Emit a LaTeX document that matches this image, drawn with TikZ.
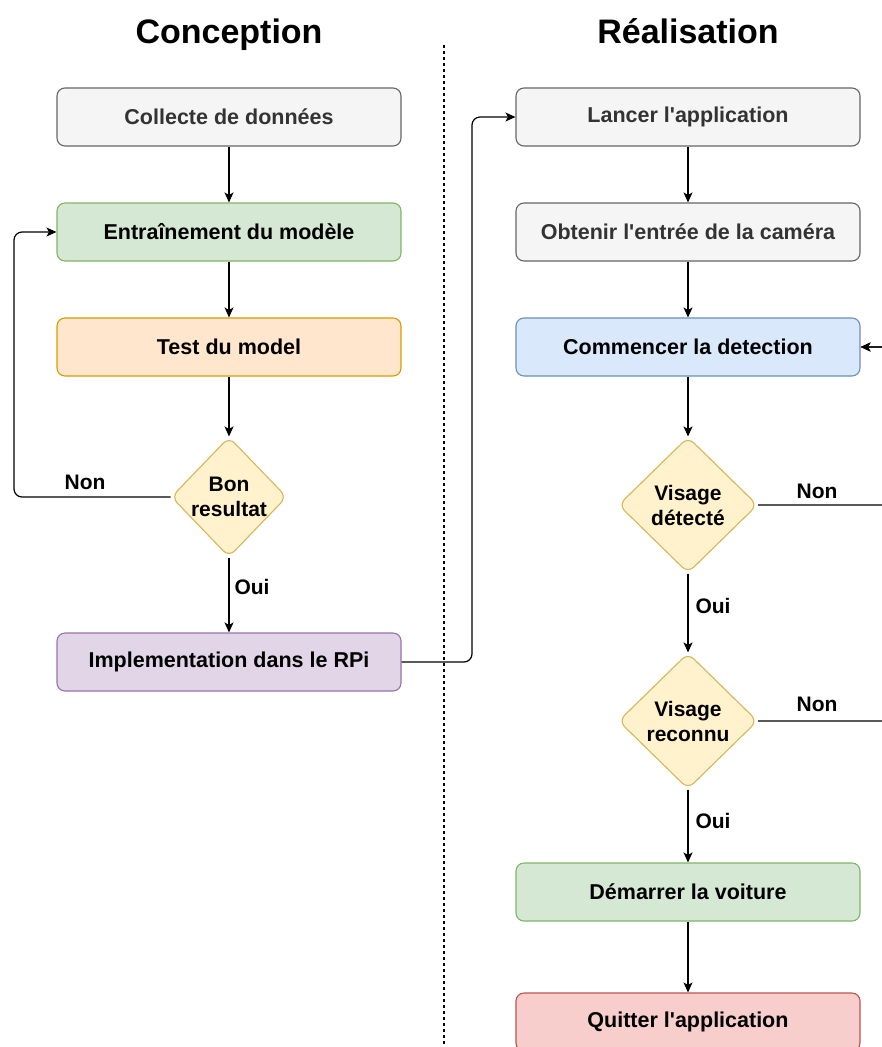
\documentclass[tikz,border=0pt]{standalone}
\usepackage{fontspec}
\setmainfont{Liberation Sans}
\usepackage{xcolor}
\usepackage{tikz}
\usetikzlibrary{arrows.meta,positioning,shapes.geometric,calc}
\definecolor{graybg}{HTML}{F5F5F5}
\definecolor{grayline}{HTML}{666666}
\definecolor{greenbg}{HTML}{D5E8D4}
\definecolor{greenline}{HTML}{82B366}
\definecolor{orangebg}{HTML}{FFE6CC}
\definecolor{orangeline}{HTML}{D79B00}
\definecolor{yellowbg}{HTML}{FFF2CC}
\definecolor{yellowline}{HTML}{D6B656}
\definecolor{purplebg}{HTML}{E1D5E7}
\definecolor{purpleline}{HTML}{9673A6}
\definecolor{bluebg}{HTML}{DAE8FC}
\definecolor{blueline}{HTML}{6C8EBF}
\definecolor{redbg}{HTML}{F8CECC}
\definecolor{redline}{HTML}{B85450}
\definecolor{darktext}{HTML}{333333}
\tikzset{
  box/.style={draw, rounded corners=8pt, line width=1.1pt, minimum width=344pt, minimum height=58pt,
    font=\fontsize{21.5}{25}\selectfont\bfseries},
  graybox/.style={box, draw=grayline, fill=graybg, text=darktext},
  cond/.style={draw=yellowline, fill=yellowbg, diamond, rounded corners=8pt, line width=1.1pt,
    inner sep=0pt, align=center, font=\fontsize{21}{25}\selectfont\bfseries},
  link/.style={line width=1.2pt, -{Stealth[length=10pt,width=9pt,inset=2.5pt]}},
  lbl/.style={font=\fontsize{21}{24}\selectfont\bfseries},
  title/.style={anchor=base, font=\fontsize{34}{38}\selectfont\bfseries},
  divider/.style={line width=1.2pt, dash pattern=on 3pt off 3pt}
}

\begin{document}
\begin{tikzpicture}[x=1pt, y=-1pt]
      \useasboundingbox (0,0) rectangle (882,1047);
      \clip (0,0) rectangle (882,1047);

      \node[title] (tconc) at (229,43) {Conception};
      \node[title] (treal) at (688,43) {Réalisation};
      \coordinate (divtop) at (444,45);
      \coordinate (divbot) at (444,1047);
      \draw[divider] (divtop) -- (divbot);

      % conception
      \node[graybox] (collect) at (229,117) {Collecte de données};
      \node[box, draw=greenline, fill=greenbg] (train) at (229,232) {Entraînement du modèle};
      \node[box, draw=orangeline, fill=orangebg] (test) at (229,347) {Test du model};
      \node[cond, minimum width=112pt, minimum height=120pt] (bon) at (229,497) {Bon\\resultat};
      \node[box, draw=purpleline, fill=purplebg] (impl) at (229,662) {Implementation dans le RPi};
      \node[lbl] (non1) at (85,482) {Non};
      \node[lbl] (oui1) at (252,587) {Oui};

      % realisation
      \node[graybox] (launch) at (688,117) {Lancer l\textquotesingle application};
      \node[graybox] (cam) at (688,232) {Obtenir l\textquotesingle entrée de la caméra};
      \node[box, draw=blueline, fill=bluebg] (detect) at (688,347) {Commencer la detection};
      \node[cond, minimum width=139pt, minimum height=136pt] (vdet) at (688,505) {Visage\\détecté};
      \node[cond, minimum width=139pt, minimum height=136pt] (vrec) at (688,721) {Visage\\reconnu};
      \node[box, draw=greenline, fill=greenbg] (start) at (688,892) {Démarrer la voiture};
      \node[box, draw=redline, fill=redbg] (quit) at (688,1022) {Quitter l\textquotesingle application};
      \node[lbl] (non2) at (817,491) {Non};
      \node[lbl] (oui2) at (713,606) {Oui};
      \node[lbl] (non3) at (817,704) {Non};
      \node[lbl] (oui3) at (713,821) {Oui};

      \coordinate (lloop) at (14,0);
      \coordinate (mloop) at (472,0);
      \coordinate (rloop) at (896,0);

      \draw[link] (collect) -- (train);
      \draw[link] (train) -- (test);
      \draw[link] (test) -- (bon);
      \draw[link] (bon) -- (impl);
      \draw[link, rounded corners=8pt] (bon.west) -- (bon.west -| lloop) -- (train.west -| lloop) -- (train.west);
      \draw[link, rounded corners=8pt] (impl.east) -- (impl.east -| mloop) -- (launch.west -| mloop) -- (launch.west);

      \draw[link] (launch) -- (cam);
      \draw[link] (cam) -- (detect);
      \draw[link] (detect) -- (vdet);
      \draw[link] (vdet) -- (vrec);
      \draw[link] (vrec) -- (start);
      \draw[link] (start) -- (quit);
      \draw[link, rounded corners=8pt] (vdet.east) -- (vdet.east -| rloop) -- (detect.east -| rloop) -- (detect.east);
      \draw[link, rounded corners=8pt] (vrec.east) -- (vrec.east -| rloop) -- (detect.east -| rloop) -- (detect.east);
\end{tikzpicture}
\end{document}
